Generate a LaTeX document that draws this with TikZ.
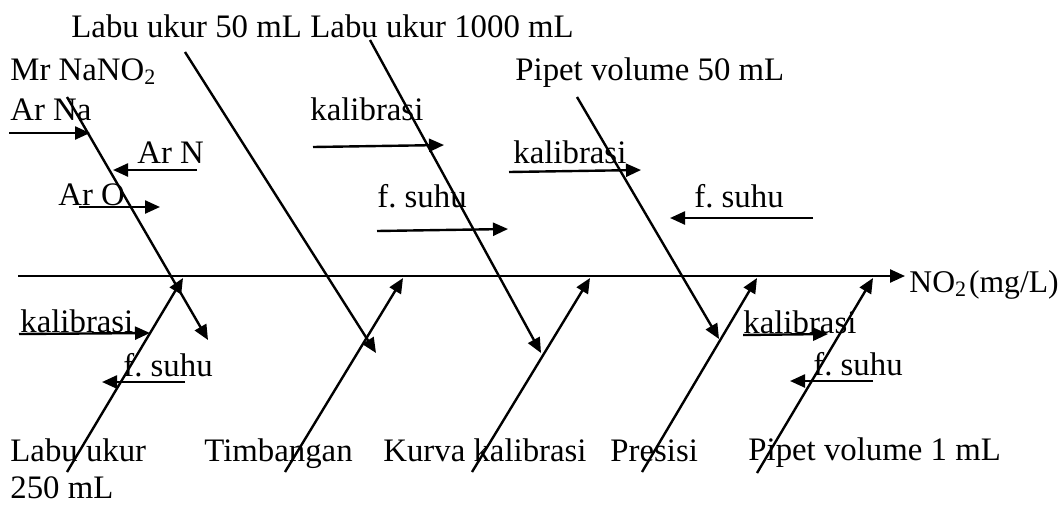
\documentclass[tikz,border=0pt]{standalone}
\usepackage{fontspec}
\setmainfont{Liberation Serif}
\usetikzlibrary{arrows.meta}
\frenchspacing
\newcommand{\lowtwo}{\raisebox{-0.3ex}{\fontsize{11}{11}\selectfont 2}}
\begin{document}
\begin{tikzpicture}[x=0.5pt,y=-0.5pt,
  cause/.style={line width=1.2pt,-{Triangle[length=7.5pt,width=6.5pt]}},
  lbl/.style={anchor=base west,inner sep=0pt,font=\fontsize{16.4}{19}\selectfont}]
\useasboundingbox (0,0) rectangle (1063,504);

% ---- spine ----
\coordinate (s0) at (18,276);
\coordinate (s1) at (905,276);
\draw[cause] (s0) -- (s1);
\node[lbl,anchor=base east,font=\fontsize{15.8}{19}\selectfont] (eff) at (1059,292) {NO\lowtwo\hspace{1.5pt}(mg/L)};

% ---- upper bones ----
\coordinate (u1a) at (67,97);   \coordinate (u1b) at (208,340);
\coordinate (u2a) at (185,52);  \coordinate (u2b) at (376,353);
\coordinate (u3a) at (370,40);  \coordinate (u3b) at (541,353);
\coordinate (u4a) at (577,97);  \coordinate (u4b) at (719,339);
\foreach \i in {1,...,4} \draw[cause] (u\i a) -- (u\i b);

\node[lbl] (l50)   at (71,37)  {Labu ukur 50 mL};
\node[lbl] (l1000) at (310,37) {Labu ukur 1000 mL};
\node[lbl] (mr)    at (10,80)  {Mr NaNO\lowtwo};
\node[lbl] (p50)   at (515,80) {Pipet volume 50 mL};

% causes on the upper bones
\node[lbl] (arna) at (10,120)  {Ar Na};
\coordinate (arnaA) at (9,133);   \coordinate (arnaB) at (90,133);
\draw[cause] (arnaA) -- (arnaB);
\node[lbl] (arn) at (137,163) {Ar N};
\coordinate (arnA) at (197,170);  \coordinate (arnB) at (113,170);
\draw[cause] (arnA) -- (arnB);
\node[lbl] (aro) at (58,205) {Ar O};
\coordinate (aroA) at (79,207);   \coordinate (aroB) at (160,207);
\draw[cause] (aroA) -- (aroB);

\node[lbl] (k1) at (310,120) {kalibrasi};
\coordinate (k1A) at (313,147);   \coordinate (k1B) at (444,145);
\draw[cause] (k1A) -- (k1B);
\node[lbl] (f1) at (377,207) {f. suhu};
\coordinate (f1A) at (377,231);   \coordinate (f1B) at (508,229);
\draw[cause] (f1A) -- (f1B);
\node[lbl] (k2) at (513,163) {kalibrasi};
\coordinate (k2A) at (509,172);   \coordinate (k2B) at (641,170);
\draw[cause] (k2A) -- (k2B);
\node[lbl] (f2) at (694,207) {f. suhu};
\coordinate (f2A) at (813,218);   \coordinate (f2B) at (670,218);
\draw[cause] (f2A) -- (f2B);

% ---- lower bones ----
\coordinate (d1a) at (67,472);  \coordinate (d1b) at (183,278);
\coordinate (d2a) at (285,472); \coordinate (d2b) at (403,278);
\coordinate (d3a) at (472,472); \coordinate (d3b) at (590,278);
\coordinate (d4a) at (642,472); \coordinate (d4b) at (757,278);
\coordinate (d5a) at (757,473); \coordinate (d5b) at (873,278);
\foreach \i in {1,...,5} \draw[cause] (d\i a) -- (d\i b);

\node[lbl] (lu)  at (10,461)  {Labu ukur};
\node[lbl] (lu2) at (10,498)  {250 mL};
\node[lbl] (tb)  at (204,461) {Timbangan};
\node[lbl] (kk)  at (383,461) {Kurva kalibrasi};
\node[lbl] (pr)  at (610,461) {Presisi};
\node[lbl] (p1)  at (748,460) {Pipet volume 1 mL};

% causes on the lower bones
\node[lbl] (k3) at (20,332) {kalibrasi};
\coordinate (k3A) at (19,334);    \coordinate (k3B) at (150,333);
\draw[cause] (k3A) -- (k3B);
\node[lbl] (f3) at (123,376) {f. suhu};
\coordinate (f3A) at (185,382);   \coordinate (f3B) at (102,382);
\draw[cause] (f3A) -- (f3B);
\node[lbl] (k4) at (743,333) {kalibrasi};
\coordinate (k4A) at (743,335);   \coordinate (k4B) at (828,334);
\draw[cause] (k4A) -- (k4B);
\node[lbl] (f4) at (813,375) {f. suhu};
\coordinate (f4A) at (873,381);   \coordinate (f4B) at (790,381);
\draw[cause] (f4A) -- (f4B);
\end{tikzpicture}
\end{document}
